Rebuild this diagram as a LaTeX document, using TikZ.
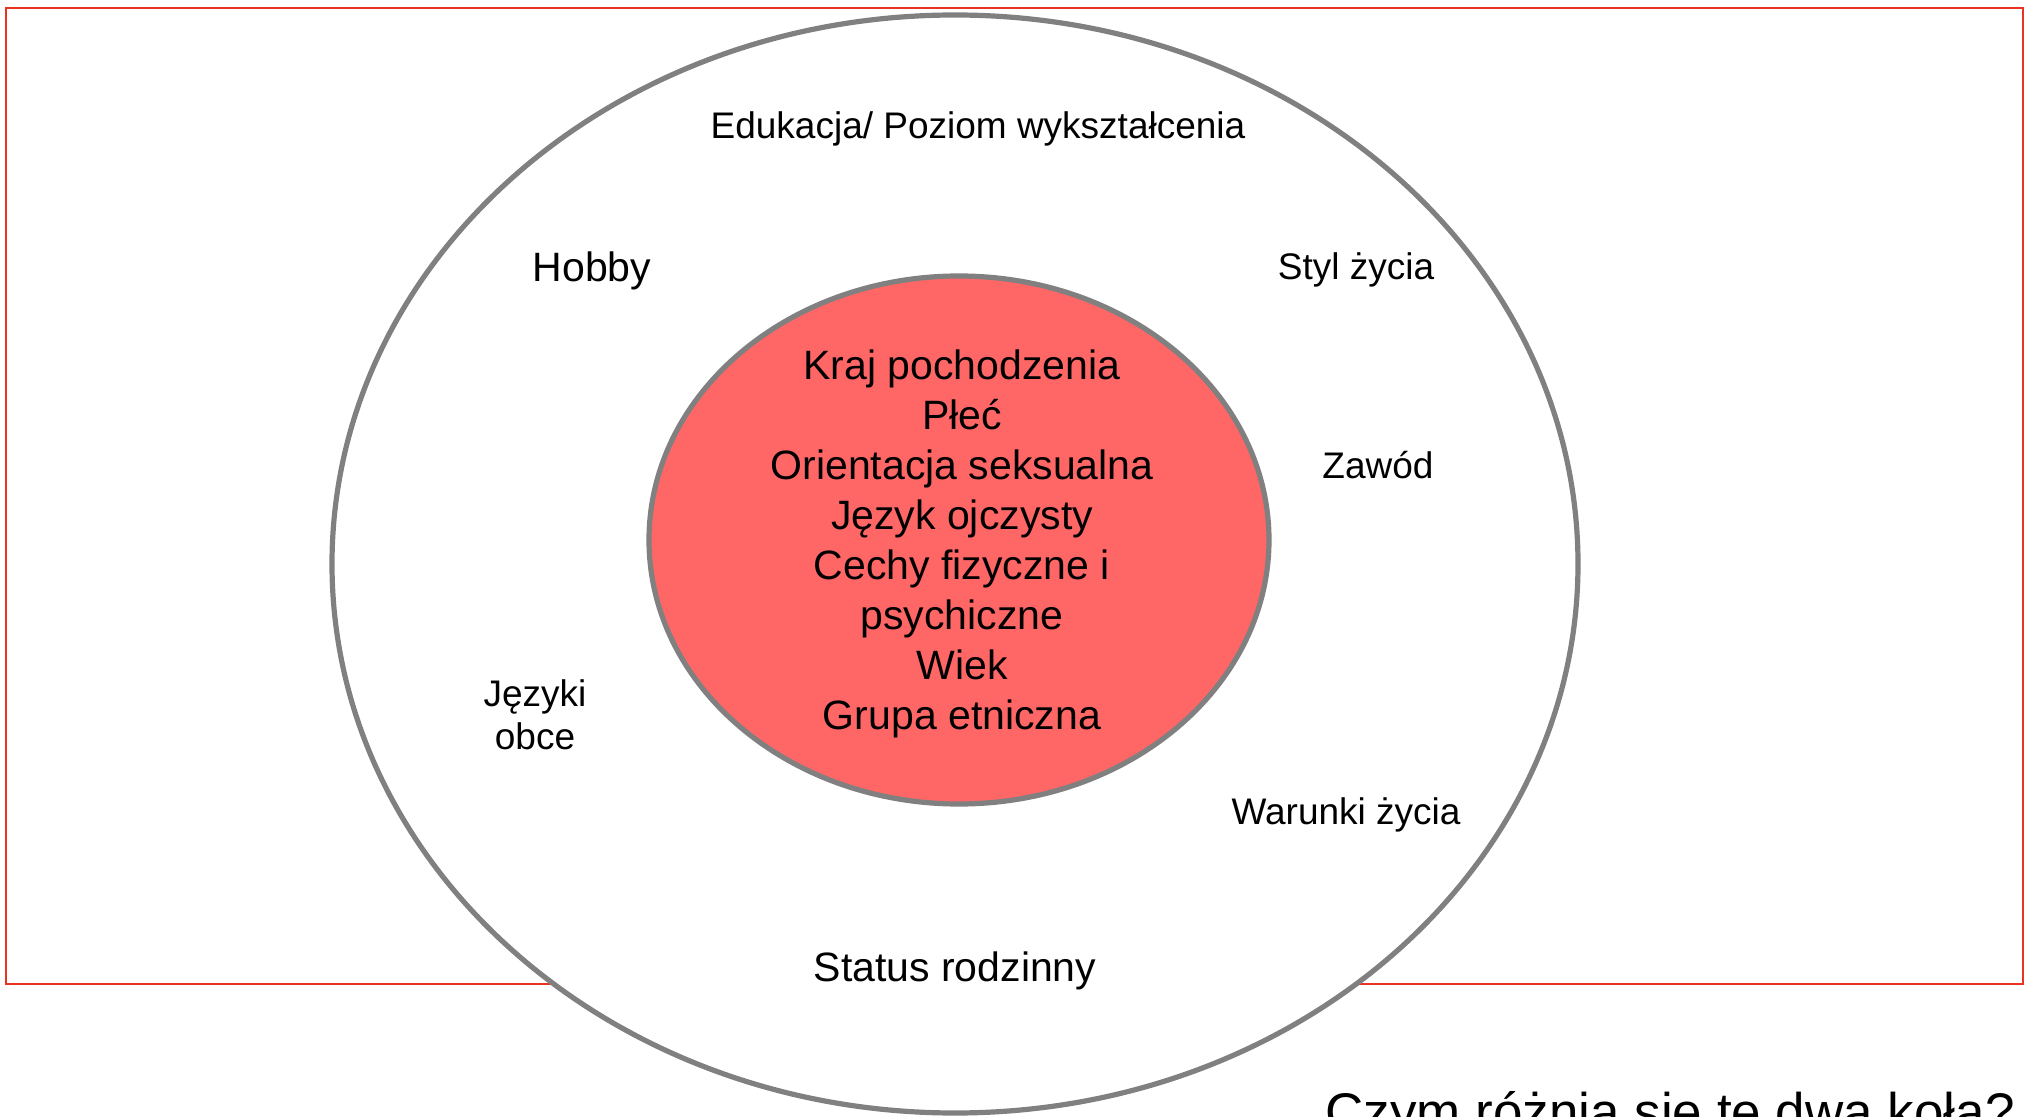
\documentclass[tikz,border=0pt]{standalone}
\usepackage{fontspec}
\setmainfont{Liberation Sans}

\definecolor{ringgray}{RGB}{128,128,128}
\definecolor{corered}{RGB}{255,102,102}
\definecolor{framered}{RGB}{234,51,35}

\begin{document}
\begin{tikzpicture}[
    x=0.5pt, y=-0.5pt,
    ring/.style={draw=ringgray, line width=2.6pt},
    core/.style={align=center, inner sep=0pt,
      font=\fontsize{20.5}{25}\selectfont},
    facet/.style={inner sep=0pt, anchor=base,
      font=\fontsize{18.5}{21.5}\selectfont},
    bigfacet/.style={facet, font=\fontsize{20.5}{25}\selectfont},
    question/.style={inner sep=0pt, anchor=base west,
      font=\fontsize{26.5}{32}\selectfont}
  ]

  \useasboundingbox (0,0) rectangle (2031,1117);

  % red frame, partly hidden by the outer ring

  \draw[framered, line width=1.4pt] (6,8) rectangle (2023,984);

  % the two rings

  \coordinate (outerc) at (955,564);
  \coordinate (innerc) at (959,540);
  \draw[ring, fill=white]   (outerc) ellipse [x radius=623, y radius=549];
  \draw[ring, fill=corered] (innerc) ellipse [x radius=310, y radius=264];

  % inner ring: the fixed traits

  \node (traits)  [core] at (962,544)            {Kraj pochodzenia\\
                                                    Płeć\\
                                                    Orientacja seksualna\\
                                                    Język ojczysty\\
                                                    Cechy fizyczne i\\
                                                    psychiczne\\
                                                    Wiek\\
                                                    Grupa etniczna};

  % outer ring: the changeable ones

  \node (edu)     [facet]    at (978,139)        {Edukacja/ Poziom wykształcenia};
  \node (hobby)   [bigfacet] at (592,282)        {Hobby};
  \node (style)   [facet]    at (1356,280)       {Styl życia};
  \node (job)     [facet]    at (1378,479)       {Zawód};
  \node (langs)   [facet, align=center, anchor=center]
                             at (535,715)        {Języki\\ obce};
  \node (living)  [facet]    at (1346,824)       {Warunki życia};
  \node (family)  [bigfacet] at (955,981)        {Status rodzinny};

  \node (ask)     [question] at (1325,1130)      {Czym różnią się te dwa koła?};

\end{tikzpicture}
\end{document}
